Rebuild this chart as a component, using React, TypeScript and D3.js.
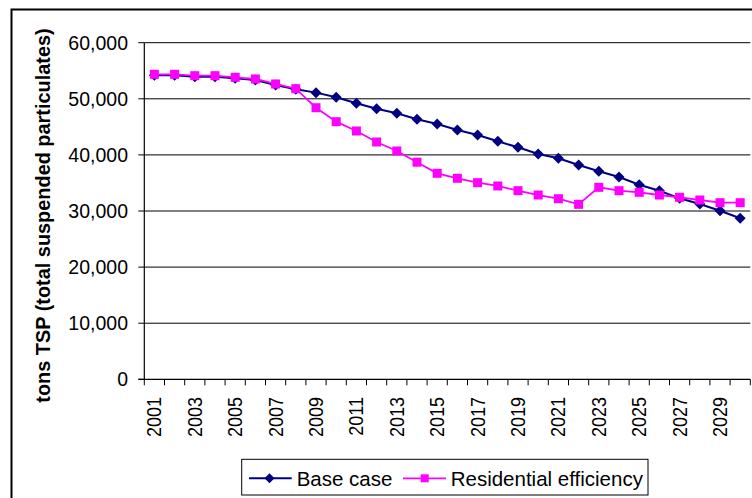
import React from "react";
import * as d3 from "d3";

const years = ["2001","2002","2003","2004","2005","2006","2007","2008","2009","2010","2011","2012","2013","2014","2015","2016","2017","2018","2019","2020","2021","2022","2023","2024","2025","2026","2027","2028","2029","2030"];
const baseCase = [54200, 54200, 53950, 53950, 53650, 53350, 52450, 51700, 51100, 50270, 49200, 48240, 47410, 46350, 45510, 44430, 43550, 42420, 41350, 40160, 39390, 38200, 37080, 36050, 34680, 33620, 32260, 31250, 30050, 28700];
const residential = [54370, 54370, 54120, 54120, 53830, 53530, 52640, 51800, 48410, 45920, 44260, 42300, 40700, 38700, 36720, 35830, 35050, 34460, 33620, 32850, 32190, 31190, 34220, 33620, 33330, 32850, 32440, 31960, 31480, 31480];
const yTicks = [0, 10000, 20000, 30000, 40000, 50000, 60000];
const seriesNames = ["Base case", "Residential efficiency"];

const W = 752, H = 498;
const left = 144.3, right = 750.3, top = 42.7, bottom = 379.3;

export default function App() {
  const x = d3.scaleBand<string>().domain(years).range([left, right]).padding(0);
  const y = d3.scaleLinear().domain([0, 60000]).range([bottom, top]);
  const bw = x.bandwidth();
  const cx = (yr: string) => (x(yr) as number) + bw / 2;
  const line = d3.line<number>().x((_, i) => cx(years[i])).y((v) => y(v));
  const fmt = d3.format(",");
  const font = "Liberation Sans, Arial, sans-serif";
  const diamond = (px: number, py: number, r: number) =>
    `M${px},${py - r}L${px + r},${py}L${px},${py + r}L${px - r},${py}Z`;
  const sq = 9;
  const tickBounds = d3.range(years.length + 1).map((i) => left + i * bw);

  return (
    <svg width={W} height={H} style={{ position: "absolute", left: 0, top: 0, background: "#fff" }} fontFamily={font}>
      <rect x={0} y={0} width={W} height={H} fill="#fff" />
      <rect x={11.5} y={9.5} width={W + 20} height={H + 20} fill="none" stroke="#000" strokeWidth={2} />
      {/* gridlines */}
      {yTicks.filter((t) => t > 0).map((t) => (
        <line key={t} x1={left} x2={right} y1={y(t)} y2={y(t)} stroke="#000" strokeWidth={1} />
      ))}
      {/* axes */}
      <line x1={left} x2={left} y1={top} y2={bottom} stroke="#000" strokeWidth={1.2} />
      <line x1={left - 6} x2={right} y1={bottom} y2={bottom} stroke="#000" strokeWidth={1.2} />
      {yTicks.map((t) => (
        <g key={"yt" + t}>
          <line x1={left - 6} x2={left} y1={y(t)} y2={y(t)} stroke="#000" />
          <text x={128} y={y(t)} dy="0.36em" textAnchor="end" fontSize={19.5} fill="#000">{fmt(t)}</text>
        </g>
      ))}
      {tickBounds.map((tx, i) => (
        <line key={"xt" + i} x1={tx} x2={tx} y1={bottom} y2={bottom + 6} stroke="#000" />
      ))}
      {years.map((yr, i) =>
        i % 2 === 0 ? (
          <text key={"xl" + yr} transform={`translate(${cx(yr)},397) rotate(-90) scale(1,1.1)`} dy="0.35em" textAnchor="end" fontSize={18} fill="#000">{yr}</text>
        ) : null
      )}
      <text transform={`translate(49.5,215.5) rotate(-90)`} textAnchor="middle" fontSize={19.9} fontWeight="bold" fill="#000">tons TSP (total suspended particulates)</text>
      {/* base case */}
      <path d={line(baseCase) as string} fill="none" stroke="#000080" strokeWidth={2} />
      {baseCase.map((v, i) => (
        <path key={"b" + i} d={diamond(cx(years[i]), y(v), 5.5)} fill="#000080" />
      ))}
      {/* residential */}
      <path d={line(residential) as string} fill="none" stroke="#FF00FF" strokeWidth={1.8} />
      {residential.map((v, i) => (
        <rect key={"r" + i} x={cx(years[i]) - sq / 2} y={y(v) - sq / 2} width={sq} height={sq} fill="#FF00FF" />
      ))}
      {/* legend */}
      <rect x={241.7} y={459.3} width={406.3} height={35.7} fill="#fff" stroke="#000" strokeWidth={1} />
      <line x1={249} x2={291.7} y1={478.3} y2={478.3} stroke="#000080" strokeWidth={2} />
      <path d={diamond(269.5, 478.3, 5)} fill="#000080" />
      <text x={296.7} y={478.3} dy="0.36em" fontSize={20.5} fill="#000">{seriesNames[0]}</text>
      <line x1={403} x2={446} y1={478.3} y2={478.3} stroke="#FF00FF" strokeWidth={1.8} />
      <rect x={424.7 - 4} y={478.3 - 4} width={8} height={8} fill="#FF00FF" />
      <text x={450.7} y={478.3} dy="0.36em" fontSize={20.5} fill="#000">{seriesNames[1]}</text>
    </svg>
  );
}
